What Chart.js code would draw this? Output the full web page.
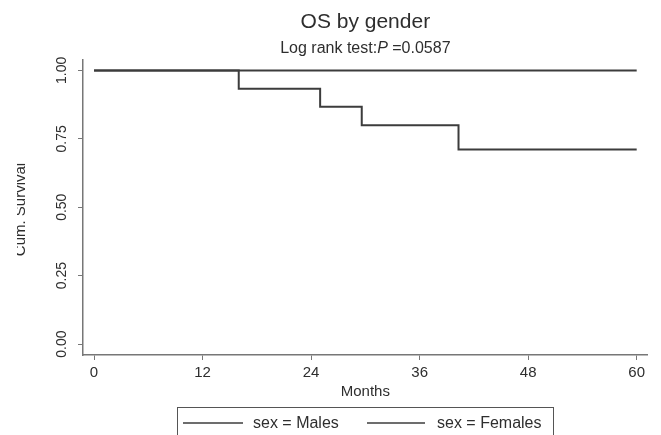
<!DOCTYPE html>
<html>
<head>
<meta charset="utf-8">
<script src="https://cdn.jsdelivr.net/npm/chart.js@4"></script>
<style>
  html, body { margin: 0; padding: 0; background: #fff; }
  #wrap { width: 661px; height: 435px; position: relative; }
</style>
</head>
<body>
<div id="wrap"><canvas id="Chart"></canvas></div>
<script>
// Kaplan-Meier steps
const maleMonths = [0, 16, 25, 29.6, 40.3, 60];
const maleSurvival = [1, 0.933, 0.867, 0.8, 0.711, 0.711];
const femaleMonths = [0, 60];
const femaleSurvival = [1, 1];
const seriesNames = ['sex = Males', 'sex = Females'];
const monthTicks = [0, 12, 24, 36, 48, 60];
const survivalTicks = [0, 0.25, 0.5, 0.75, 1];
const survivalLabels = ['0.00', '0.25', '0.50', '0.75', '1.00'];

const FONT = '"Liberation Sans", Arial, sans-serif';
const INK = '#2e2e2e';
const LINE = '#3c3c3c';

function pts(xs, ys) { return xs.map((x, i) => ({ x: x, y: ys[i] })); }

// titles, rotated y labels, axis title and boxed legend
const decor = {
  id: 'decor',
  afterDraw(chart) {
    const ctx = chart.ctx;
    const area = chart.chartArea;
    const xs = chart.scales.x, ys = chart.scales.y;
    const cx = (xs.getPixelForValue(0) + xs.getPixelForValue(60)) / 2;
    ctx.save();
    ctx.fillStyle = INK;

    // title
    ctx.font = '21px ' + FONT;
    ctx.textAlign = 'center';
    ctx.textBaseline = 'alphabetic';
    ctx.fillText('OS by gender', cx, 28);

    // subtitle with italic P
    const a = 'Log rank test:', b = 'P', c = ' =0.0587';
    ctx.font = '16px ' + FONT;
    const wa = ctx.measureText(a).width, wc = ctx.measureText(c).width;
    ctx.font = 'italic 16px ' + FONT;
    const wb = ctx.measureText(b).width;
    let x0 = cx - (wa + wb + wc) / 2;
    ctx.textAlign = 'left';
    ctx.font = '16px ' + FONT;
    ctx.fillText(a, x0, 53);
    ctx.font = 'italic 16px ' + FONT;
    ctx.fillText(b, x0 + wa, 53);
    ctx.font = '16px ' + FONT;
    ctx.fillText(c, x0 + wa + wb, 53);

    // y tick labels, rotated
    ctx.font = '14px ' + FONT;
    ctx.textAlign = 'center';
    ctx.textBaseline = 'alphabetic';
    survivalTicks.forEach((v, i) => {
      const y = ys.getPixelForValue(v);
      ctx.save();
      ctx.translate(66, y);
      ctx.rotate(-Math.PI / 2);
      ctx.fillText(survivalLabels[i], 0, 0);
      ctx.restore();
    });

    // y axis title (clipped on the left like the source)
    ctx.save();
    ctx.beginPath();
    ctx.rect(17, 0, 60, 435);
    ctx.clip();
    ctx.translate(25, (area.top + area.bottom) / 2 + 2);
    ctx.rotate(-Math.PI / 2);
    ctx.font = '15px ' + FONT;
    ctx.fillText('Cum. Survival', 0, 0);
    ctx.restore();

    // x axis title
    ctx.font = '15px ' + FONT;
    ctx.textAlign = 'center';
    ctx.fillText('Months', cx, 396);

    // legend box
    ctx.strokeStyle = '#555';
    ctx.lineWidth = 1;
    ctx.strokeRect(177.5, 407.5, 376, 40);
    const items = [
      { x1: 183, x2: 243, tx: 253 },
      { x1: 367, x2: 425, tx: 437 }
    ];
    ctx.font = '16px ' + FONT;
    ctx.textAlign = 'left';
    ctx.textBaseline = 'middle';
    chart.data.datasets.forEach((ds, i) => {
      const it = items[i];
      ctx.strokeStyle = ds.borderColor;
      ctx.lineWidth = 1.5;
      ctx.beginPath();
      ctx.moveTo(it.x1, 423);
      ctx.lineTo(it.x2, 423);
      ctx.stroke();
      ctx.fillText(ds.label, it.tx, 424);
    });
    ctx.restore();
  }
};

let lineCtx = document.getElementById('Chart');
let lineConfig = {
  type: 'line',
  data: {
    datasets: [
      {
        label: seriesNames[0],
        data: pts(maleMonths, maleSurvival),
        stepped: true,
        borderColor: LINE,
        borderWidth: 2,
        pointRadius: 0,
        fill: false
      },
      {
        label: seriesNames[1],
        data: pts(femaleMonths, femaleSurvival),
        stepped: true,
        borderColor: LINE,
        borderWidth: 2,
        pointRadius: 0,
        fill: false
      }
    ]
  },
  options: {
    responsive: true,
    maintainAspectRatio: false,
    animation: false,
    layout: { padding: { left: 0, right: 14, top: 60, bottom: 0 } },
    plugins: {
      legend: { display: false },
      title: { display: false },
      tooltip: { enabled: false }
    },
    scales: {
      x: {
        type: 'linear',
        min: -1.22,
        max: 61.14,
        afterBuildTicks: s => { s.ticks = monthTicks.map(v => ({ value: v })); },
        afterFit: s => { s.height = 80; },
        grid: { display: true, drawOnChartArea: false, drawTicks: true, tickLength: 5, color: '#777' },
        border: { display: true, color: '#777', width: 1.5 },
        ticks: {
          color: INK,
          font: { family: FONT, size: 15 },
          padding: 4,
          maxRotation: 0,
          autoSkip: false
        }
      },
      y: {
        type: 'linear',
        min: -0.04,
        max: 1.038,
        afterBuildTicks: s => { s.ticks = survivalTicks.map(v => ({ value: v })); },
        afterFit: s => { s.width = 83; },
        grid: { display: true, drawOnChartArea: false, drawTicks: true, tickLength: 5, color: '#777' },
        border: { display: true, color: '#777', width: 1.5 },
        ticks: { color: 'rgba(0,0,0,0)', font: { family: FONT, size: 14 } }
      }
    }
  },
  plugins: [decor]
};
let lineChart = new Chart(lineCtx, lineConfig);
</script>
</body>
</html>
